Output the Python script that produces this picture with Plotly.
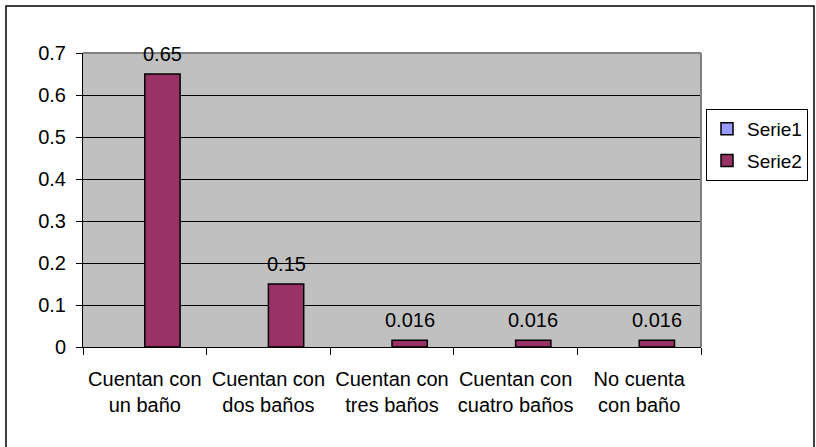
import plotly.graph_objects as go

# Categories and series values
categorias = [
    "Cuentan con<br>un baño",
    "Cuentan con<br>dos baños",
    "Cuentan con<br>tres baños",
    "Cuentan con<br>cuatro baños",
    "No cuenta<br>con baño",
]
serie1 = [None, None, None, None, None]
serie2 = [0.65, 0.15, 0.016, 0.016, 0.016]
etiquetas_serie2 = ["0.65", "0.15", "0.016", "0.016", "0.016"]
y_ticks = [0, 0.1, 0.2, 0.3, 0.4, 0.5, 0.6, 0.7]

W, H = 816, 447
# plot area in pixels
PL, PR, PT, PB = 83, 701, 53, 347
pw, ph = PR - PL, PB - PT

def px_x(x):
    return (x - PL) / pw

def px_y(y):
    return (PB - y) / ph

FONT = "Liberation Sans, Arial, sans-serif"
FS = 20
GAP = 1.5  # gap between groups, in bar widths
bar_w = pw / len(categorias) / (2 + GAP)

fig = go.Figure()
fig.add_trace(go.Bar(
    name="Serie1", x=categorias, y=serie1, legendgroup="s1",
    marker=dict(color="#9999FF", line=dict(color="black", width=1.5)),
))
fig.add_trace(go.Bar(
    name="Serie2", x=categorias, y=serie2, legendgroup="s2",
    marker=dict(color="#993366", line=dict(color="black", width=1.5)),
))

# value labels above the Serie2 bars
annotations = [
    dict(x=c, y=v, text=t, xref="x", yref="y", showarrow=False,
         xanchor="center", yanchor="bottom", xshift=bar_w / 2, yshift=7,
         font=dict(family=FONT, size=FS, color="black"))
    for c, v, t in zip(categorias, serie2, etiquetas_serie2)
]

fig.update_layout(
    width=W, height=H,
    margin=dict(l=PL, r=W - PR, t=PT, b=H - PB, pad=0, autoexpand=False),
    paper_bgcolor="white", plot_bgcolor="#C0C0C0",
    barmode="group", bargap=GAP / (2 + GAP), bargroupgap=0,
    font=dict(family=FONT, size=FS, color="black"),
    showlegend=True,
    legend=dict(
        x=px_x(706), y=px_y(109), xanchor="left", yanchor="top",
        bgcolor="white", bordercolor="black", borderwidth=1,
        font=dict(family=FONT, size=19, color="black"),
        traceorder="grouped", tracegroupgap=4, itemwidth=30,
    ),
    annotations=annotations,
    xaxis=dict(
        type="category", showgrid=False, showline=True, linecolor="black",
        linewidth=1, ticks="outside", tickson="boundaries", ticklen=7,
        tickcolor="black", tickfont=dict(family=FONT, size=FS),
        tickangle=0, ticklabelstandoff=14, zeroline=False,
    ),
    yaxis=dict(
        range=[0, 0.7], tickvals=y_ticks, showgrid=True, gridcolor="black",
        gridwidth=1, showline=True, linecolor="black", linewidth=1,
        ticks="outside", ticklen=6, tickcolor="black",
        tickfont=dict(family=FONT, size=FS), ticklabelstandoff=6,
        zeroline=False,
    ),
    shapes=[
        # gray frame of the plot area (top and right edges)
        dict(type="line", xref="paper", yref="paper", x0=0, x1=1, y0=1, y1=1,
             line=dict(color="#808080", width=2)),
        dict(type="line", xref="paper", yref="paper", x0=1, x1=1, y0=0, y1=1,
             line=dict(color="#808080", width=2)),
        # outer chart border
        dict(type="rect", xref="paper", yref="paper",
             x0=px_x(6), x1=px_x(814), y0=px_y(450), y1=px_y(6),
             line=dict(color="black", width=1.5)),
    ],
)

fig.write_html("out.html")
